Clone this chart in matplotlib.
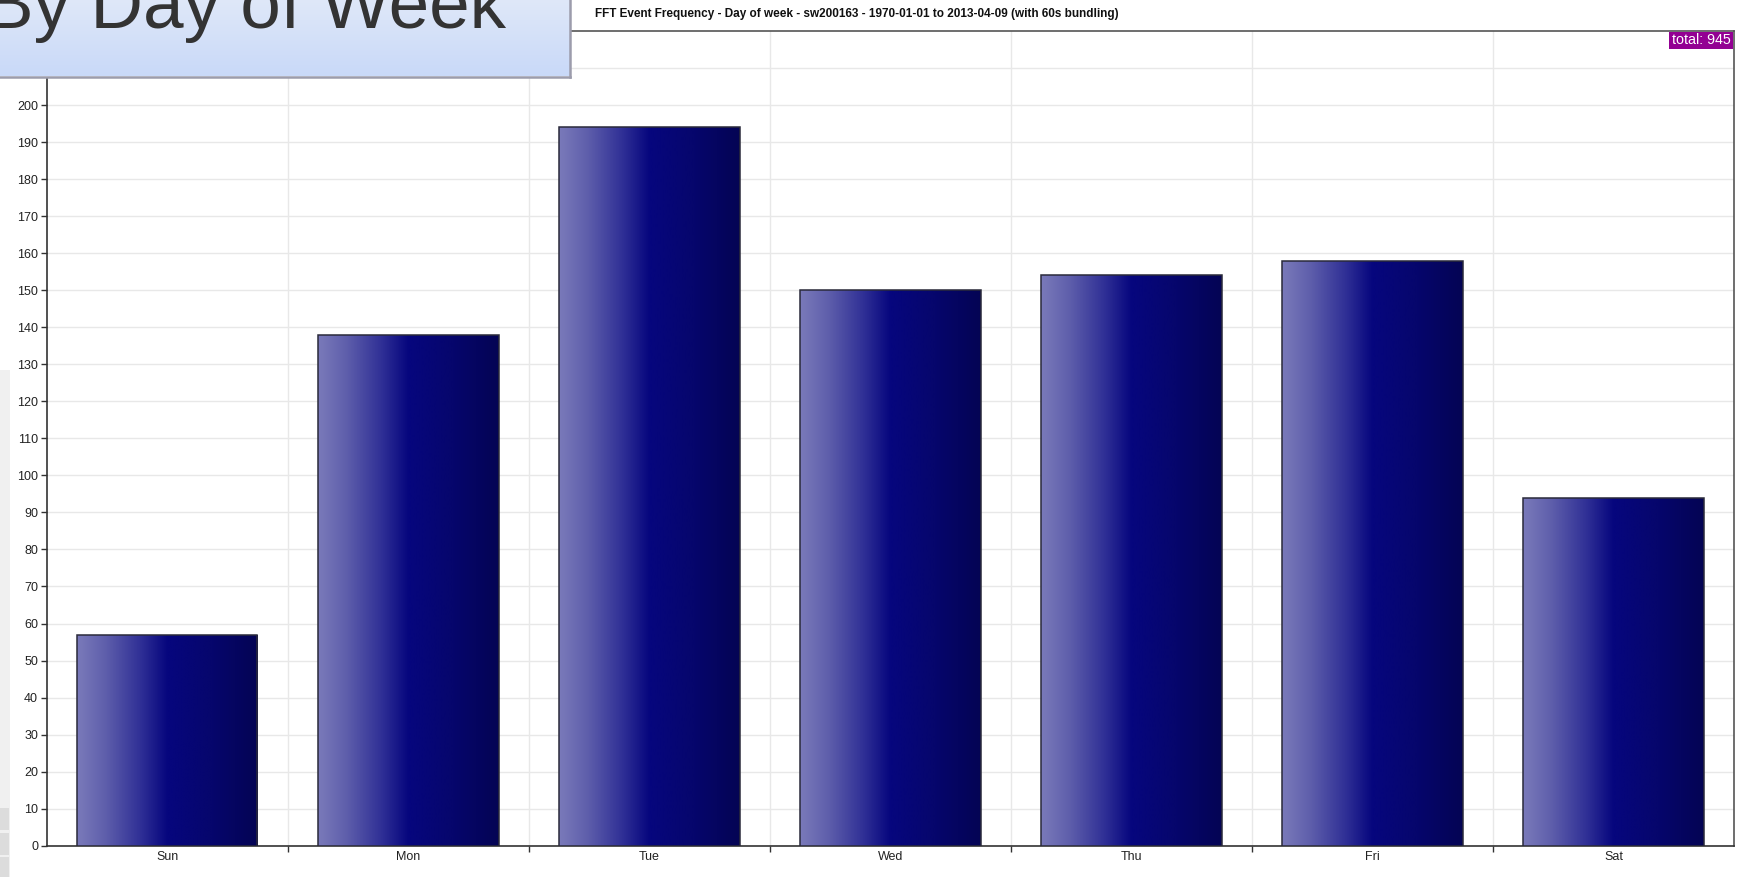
import numpy as np
import matplotlib
matplotlib.use("Agg")
import matplotlib.pyplot as plt
from matplotlib.colors import LinearSegmentedColormap
from matplotlib.patches import Rectangle, FancyBboxPatch

# ---- data ----
days = ["Sun", "Mon", "Tue", "Wed", "Thu", "Fri", "Sat"]
counts = [57, 138, 194, 150, 154, 158, 94]
y_ticks = list(range(0, 220, 10))
chart_title = "FFT Event Frequency - Day of week - sw200163 - 1970-01-01 to 2013-04-09 (with 60s bundling)"
slide_title = "By Day of Week"
total_label = "total: %d" % sum(counts)

W, H = 1738, 877
fig = plt.figure(figsize=(W / 100, H / 100), dpi=100)
fig.patch.set_facecolor("white")

def fx(px):
    return px / W

def fy(py):
    return 1 - py / H

ax_l, ax_r, ax_t, ax_b = 46.5, 1734, 31, 845.7
ax = fig.add_axes([fx(ax_l), fy(ax_b), fx(ax_r - ax_l), (ax_b - ax_t) / H])
ax.set_facecolor("white")

x = np.arange(len(days))
bars = ax.bar(x, counts, width=0.75, facecolor="none", edgecolor="#2a2a3a",
              linewidth=1.1, zorder=3)

grad_cmap = LinearSegmentedColormap.from_list("bar", [
    (0.0, (122/255, 122/255, 186/255)),
    (0.15, (96/255, 96/255, 172/255)),
    (0.35, (48/255, 48/255, 150/255)),
    (0.5, (6/255, 6/255, 126/255)),
    (0.75, (6/255, 6/255, 108/255)),
    (1.0, (4/255, 4/255, 84/255)),
])
grad = np.linspace(0, 1, 256).reshape(1, -1)
for b in bars:
    x0, w, h = b.get_x(), b.get_width(), b.get_height()
    im = ax.imshow(grad, cmap=grad_cmap, extent=[x0, x0 + w, 0, h],
                   aspect="auto", zorder=2.9, interpolation="bilinear")
    im.set_clip_path(b)

ax.set_xlim(-0.5, len(days) - 0.5)
ax.set_ylim(0, 220)
ax.set_aspect("auto")

# ticks
ax.set_yticks(y_ticks)
ax.set_yticklabels([str(v) for v in y_ticks])
ax.set_xticks(x)
ax.set_xticklabels(days)
ax.set_xticks(np.arange(0.5, len(days) - 0.5, 1), minor=True)
ax.tick_params(axis="x", which="major", length=0, pad=4, labelsize=9, labelcolor="#222222")
ax.tick_params(axis="x", which="minor", length=4, width=1, color="#333333", direction="out")
ax.tick_params(axis="y", which="major", length=4, width=1, color="#333333", pad=2,
               labelsize=9, labelcolor="#222222")
for lab in ax.get_xticklabels() + ax.get_yticklabels():
    lab.set_family(["Liberation Sans", "DejaVu Sans"])

ax.set_axisbelow(True)
ax.grid(True, axis="y", which="major", color="#e8e8e8", linewidth=1)
ax.grid(True, axis="x", which="minor", color="#e8e8e8", linewidth=1)

for side in ["left", "bottom"]:
    ax.spines[side].set_color("#333333")
    ax.spines[side].set_linewidth(1.2)
for side in ["top", "right"]:
    ax.spines[side].set_color("#555555")
    ax.spines[side].set_linewidth(1.2)

# chart title
fig.text(fx(857), fy(14.5), chart_title, ha="center", va="center",
         fontsize=8.5, fontweight="bold", color="#111111",
         family=["Liberation Sans", "DejaVu Sans"])

# total badge
badge = FancyBboxPatch((fx(1669), fy(49)), fx(64), 17 / H,
                       boxstyle="square,pad=0", transform=fig.transFigure,
                       facecolor="#930093", edgecolor="none", zorder=6)
fig.patches.append(badge)
fig.text(fx(1701), fy(40.5), total_label, ha="center", va="center", fontsize=10.3,
         color="white", family=["Liberation Sans", "DejaVu Sans"], zorder=7)

# left slide strip
strip = Rectangle((0, fy(877)), fx(10), (877 - 370) / H, transform=fig.transFigure,
                  facecolor="#f0f0f0", edgecolor="none", zorder=1)
fig.patches.append(strip)
for ytop in [808, 833, 857]:
    sq = Rectangle((0, fy(ytop + 22)), fx(9), 22 / H, transform=fig.transFigure,
                   facecolor="#dcdcdc", edgecolor="none", zorder=1.1)
    fig.patches.append(sq)

# slide title box overlay
box_r, box_b = 570, 76.5
bax = fig.add_axes([0, fy(box_b), fx(box_r), box_b / H], zorder=5)
box_cmap = LinearSegmentedColormap.from_list("box", ["#dfe8f9", "#c9d9f8"])
bax.imshow(np.linspace(0, 1, 64).reshape(-1, 1), cmap=box_cmap, aspect="auto",
           extent=[0, 1, 0, 1], interpolation="bilinear")
bax.set_xlim(0, 1)
bax.set_ylim(0, 1)
bax.set_xticks([])
bax.set_yticks([])
for side in ["left", "top"]:
    bax.spines[side].set_visible(False)
for side in ["right", "bottom"]:
    bax.spines[side].set_color("#9c9cac")
    bax.spines[side].set_linewidth(1.8)

fig.text(fx(-15), fy(28), slide_title, ha="left", va="baseline", fontsize=52.5,
         color="#333333", family=["Liberation Sans", "DejaVu Sans"], zorder=8)

fig.savefig("out.png", dpi=100, facecolor="white")
